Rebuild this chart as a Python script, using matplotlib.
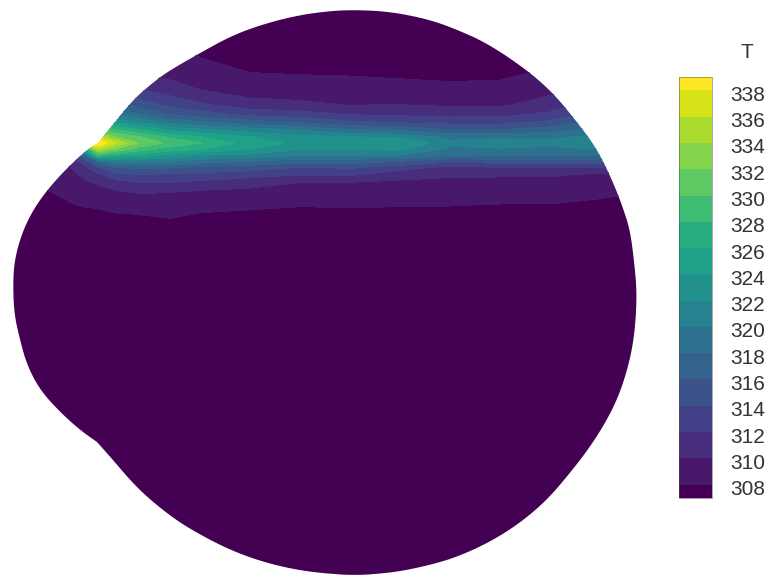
import numpy as np
import matplotlib
matplotlib.use("Agg")
import matplotlib.pyplot as plt
from matplotlib.colors import BoundaryNorm, ListedColormap
from matplotlib.patches import Polygon
from matplotlib.transforms import ScaledTranslation

plt.rcParams['font.family'] = ['Liberation Sans', 'DejaVu Sans']

# temperature, one list per column (image pixels)
levels = list(range(308, 340, 2))
y_rows = [0, 58, 75, 90, 105, 115, 123, 130, 137, 143, 149, 155, 161, 167, 174, 182, 192, 205, 220, 575]
x_cols = [0, 40, 70, 85, 98, 115, 140, 170, 200, 250, 300, 350, 400, 450, 500, 550, 600, 650]

t_x0 = [311, 311, 311.5, 312, 312.5, 313, 313.5, 314, 314, 314, 313, 312, 310.5, 309, 308.5, 308, 307.5, 307, 307, 307]
t_x40 = [311, 311, 311.5, 312, 312.5, 313, 313.5, 314, 314, 314, 313, 312, 311, 309, 308.7, 308.3, 307.8, 307.4, 307, 307]
t_x70 = [312, 312.5, 313, 314, 316, 318, 320, 322, 324, 318, 315, 312.5, 310.8, 309.9, 309.3, 308.8, 308.3, 307.9, 307, 307]
t_x85 = [312, 313, 314, 316, 320, 324, 328, 332, 336, 338, 325, 318, 313, 311.5, 310.6, 309.7, 308.9, 308.1, 307.3, 307]
t_x98 = [312, 313, 314, 316, 319, 322, 326, 330, 336, 340, 335, 328, 318, 314, 311.6, 310.3, 309.2, 308.2, 307.3, 307]
t_x115 = [310, 311, 312, 314, 317, 320, 324, 328, 332, 336, 332, 326, 320.5, 316, 313.5, 311.3, 309.6, 308.3, 307.7, 307]
t_x140 = [308, 309, 310, 312, 315, 318, 322, 326, 330, 331.5, 329, 325, 320.5, 316.5, 314, 312, 310.2, 308.5, 307.7, 307]
t_x170 = [307.5, 308.3, 309.5, 311, 313.5, 316, 319.5, 323.5, 327.5, 329.5, 327, 323.5, 320, 316.3, 313.8, 312, 310, 308.7, 307.9, 307]
t_x200 = [307, 308, 309.1, 310, 312.3, 315, 318.4, 322.3, 326, 328, 326, 322, 319, 315.6, 313.5, 311.6, 309.6, 308.4, 307.6, 307]
t_x250 = [306.5, 307.3, 308.1, 309, 310.8, 313.5, 317, 321, 324, 325, 324, 321.5, 318, 315, 313, 310.7, 309.5, 308.3, 307.3, 307]
t_x300 = [306, 307, 308, 309, 310.4, 313, 316, 319.8, 322.5, 323.5, 322, 320, 316.8, 314, 312.2, 310, 309.2, 308.1, 307, 307]
t_x350 = [306, 307, 307.9, 309, 309.9, 312, 314.5, 318, 322, 323.5, 322, 320, 317, 314.3, 312.4, 310, 309.3, 308.2, 307, 307]
t_x400 = [306, 307, 307.7, 308.8, 310, 311.7, 314, 317.5, 321.5, 324, 322.5, 320, 316, 313, 310.8, 309.7, 309.2, 308.1, 307, 307]
t_x450 = [306, 307, 307.5, 308.6, 309.7, 311.4, 313.5, 316, 319.3, 320.5, 319.5, 318, 314.5, 311.5, 310.2, 309.7, 309, 308.05, 307, 307]
t_x500 = [306, 307, 307.6, 308.7, 309.7, 311.5, 313.5, 316, 319.5, 321, 319.8, 318, 315, 312, 310.2, 309.6, 308.9, 307.9, 307, 307]
t_x550 = [306, 307.5, 308.5, 309.5, 310.8, 312.5, 314.5, 317, 319.5, 320.5, 319.5, 318, 315, 312, 310.2, 309.6, 308.9, 307.9, 307, 307]
t_x600 = [308, 309, 310, 311, 313, 315, 317, 319, 320.5, 321, 320, 318, 315, 312, 309.8, 309, 308.4, 307.6, 307, 307]
t_x650 = [308, 309, 310, 311, 313, 315, 317, 319, 320.5, 321, 320, 318, 315, 312, 309.5, 308.5, 307.9, 307.3, 307, 307]

# outline of the domain, the two corners are listed twice so they stay sharp
outline_x = [98, 98, 115, 133, 150, 167, 200, 233, 267, 300, 330, 353, 380, 403, 430, 453, 487, 527, 553, 573, 593,
             605, 615, 623, 630, 634, 637, 635, 630, 620, 607, 590, 570, 547, 520, 490, 457, 430, 397, 363, 330, 297, 263,
             230, 197, 173, 147, 130, 113, 97, 97, 80, 60, 40, 27, 20, 14, 13, 15, 22, 33, 48, 67, 87]
outline_y = [143, 143, 122, 100, 85, 72, 53, 35, 23, 15, 11, 10, 11, 14, 20, 28, 43, 70, 93, 117, 143,
             165, 187, 208, 230, 260, 293, 330, 360, 393, 420, 447, 473, 500, 523, 542, 557, 565, 572, 575, 574, 570, 562,
             550, 533, 518, 497, 480, 460, 442, 442, 430, 412, 390, 365, 340, 313, 280, 258, 233, 210, 189, 168, 150]

temp = np.column_stack([t_x0, t_x40, t_x70, t_x85, t_x98, t_x115, t_x140, t_x170, t_x200, t_x250,
                        t_x300, t_x350, t_x400, t_x450, t_x500, t_x550, t_x600, t_x650])


def round_outline(points, passes=3):
    # corner cutting, only to take the facets off the outline
    for _ in range(passes):
        following = np.roll(points, -1, axis=0)
        points = np.column_stack([0.75 * points + 0.25 * following,
                                  0.25 * points + 0.75 * following]).reshape(-1, 2)
    return points


colors = plt.cm.viridis(np.linspace(0, 1, 17))
cmap = ListedColormap(colors[1:-1])
cmap.set_under(colors[0])
cmap.set_over(colors[-1])
norm = BoundaryNorm(levels, cmap.N)

fig = plt.figure(figsize=(7.7, 5.75), dpi=100)
ax = fig.add_axes([0, 0, 1, 1])
ax.set_xlim(0, 770)
ax.set_ylim(575, 0)
ax.axis('off')

cf = ax.contourf(x_cols, y_rows, temp, levels=levels, cmap=cmap, norm=norm, extend='both')
cf.set_edgecolor('face')
cf.set_linewidth(0.4)
shape = Polygon(round_outline(np.column_stack([outline_x, outline_y]).astype(float)), closed=True,
                transform=ax.transData, facecolor='none', edgecolor='none')
ax.add_patch(shape)
cf.set_clip_path(shape)

# legend bar
cax = fig.add_axes([679 / 770, 1 - 498 / 575, 33 / 770, 421 / 575])
cb = fig.colorbar(cf, cax=cax, ticks=levels, extend='both', extendrect=True, extendfrac=0.034)
cb.dividers.set_color((0, 0, 0, 0.55))
cb.dividers.set_linewidth(0.8)
cb.outline.set_edgecolor((0.3, 0.3, 0.3, 0.5))
cb.outline.set_linewidth(0.7)
cax.tick_params(length=0, pad=13, labelsize=15, labelcolor='#333333')
for label in cax.get_yticklabels():
    label.set_transform(label.get_transform() + ScaledTranslation(0, -3 / 100, fig.dpi_scale_trans))

ax.text(747, 53, 'T', fontsize=15, color='#333333', ha='center', va='center')

fig.savefig('out.png', dpi=100)
